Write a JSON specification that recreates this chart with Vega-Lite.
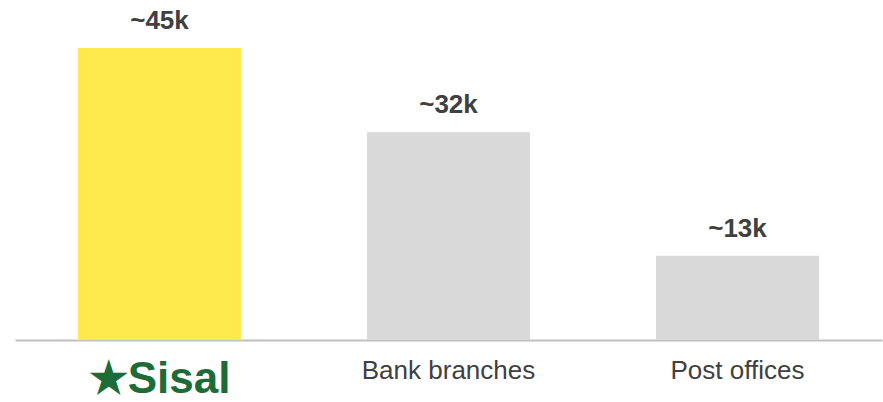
{
  "$schema": "https://vega.github.io/schema/vega-lite/v6.json",
  "width": 867,
  "height": 340,
  "autosize": {"type": "none"},
  "padding": {"left": 15, "top": 0, "right": 1, "bottom": 62},
  "background": "white",
  "config": {"view": {"stroke": null}, "font": "Liberation Sans"},
  "data": {
    "values": [
      {"category": "Sisal", "value": 45, "label": "~45k", "highlight": "yes"},
      {"category": "Bank branches", "value": 32, "label": "~32k", "highlight": "no"},
      {"category": "Post offices", "value": 13, "label": "~13k", "highlight": "no"}
    ]
  },
  "encoding": {
    "x": {
      "field": "category",
      "type": "nominal",
      "sort": null,
      "scale": {"paddingInner": 0.436, "paddingOuter": 0.218},
      "axis": {
        "title": null,
        "domainColor": "#bfbfbf",
        "domainWidth": 2,
        "ticks": false,
        "labelAngle": 0,
        "labelBaseline": "top",
        "labelPadding": 17,
        "labelFont": "Liberation Sans",
        "labelFontSize": {"expr": "datum.value == 'Sisal' ? 44 : 26"},
        "labelFontWeight": {"expr": "datum.value == 'Sisal' ? 'bold' : 'normal'"},
        "labelColor": {"expr": "datum.value == 'Sisal' ? '#1d6b36' : '#404040'"},
        "labelExpr": "datum.value == 'Sisal' ? '★Sisal' : datum.value"
      }
    },
    "y": {
      "field": "value",
      "type": "quantitative",
      "scale": {"domain": [0, 52.4]},
      "axis": null
    }
  },
  "layer": [
    {
      "mark": {"type": "bar"},
      "encoding": {
        "color": {
          "field": "highlight",
          "type": "nominal",
          "scale": {"domain": ["yes", "no"], "range": ["#ffe94d", "#d9d9d9"]},
          "legend": null
        }
      }
    },
    {
      "mark": {"type": "text", "dy": -27, "baseline": "middle", "fontSize": 26, "fontWeight": "bold", "color": "#404040", "font": "Liberation Sans"},
      "encoding": {"text": {"field": "label"}}
    }
  ]
}
